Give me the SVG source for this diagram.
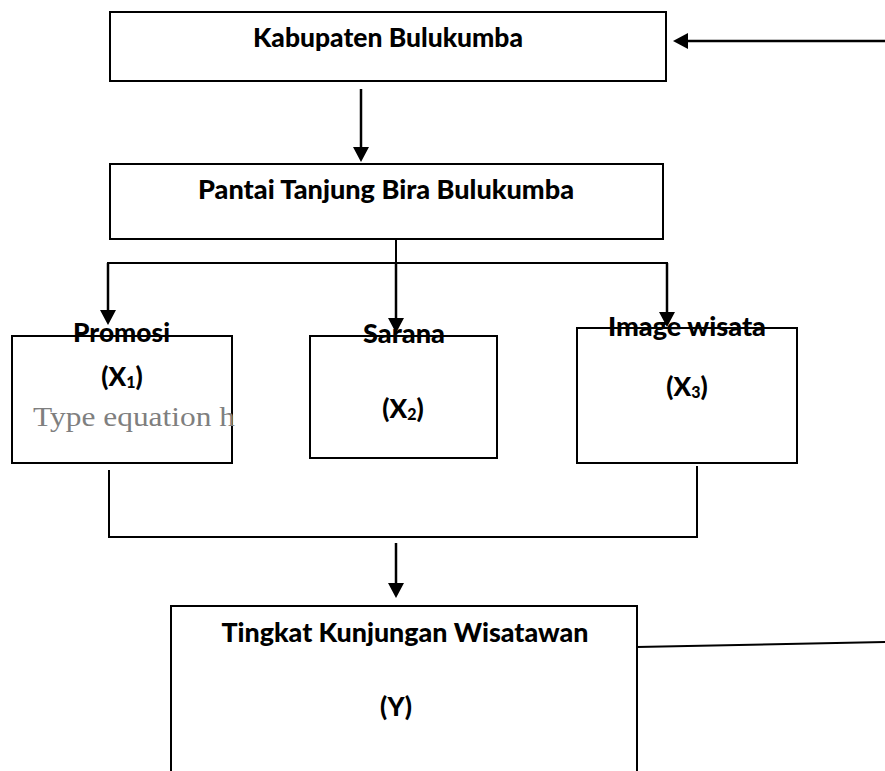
<svg xmlns="http://www.w3.org/2000/svg" width="885" height="771" viewBox="0 0 885 771">
  <style>
    .box { fill: none; stroke: #000; stroke-width: 2; }
    .lbl { font-family: Lato, "Open Sans", "Liberation Sans", sans-serif; font-weight: 900; font-size: 26px; fill: #000; text-anchor: middle; }
    .sub { font-size: 16px; }
    .eq { font-family: "Liberation Serif", "DejaVu Serif", serif; font-size: 28px; fill: #7f7f7f; }
    .con { fill: none; stroke: #000; stroke-width: 2.5; }
    .thin { fill: none; stroke: #000; stroke-width: 2; }
  </style>
  <defs>
    <marker id="ah" markerUnits="userSpaceOnUse" markerWidth="15" markerHeight="16" refX="10" refY="8" orient="auto">
      <path d="M0,0 L15,8 L0,16 z" fill="#000"/>
    </marker>
  </defs>

  <g id="connectors">
    <line class="con" x1="885" y1="41" x2="678" y2="41" marker-end="url(#ah)"/>
    <line class="con" x1="361" y1="89" x2="361" y2="157" marker-end="url(#ah)"/>
    <line class="thin" x1="396" y1="239" x2="396" y2="263"/>
    <line class="thin" x1="107" y1="263" x2="668" y2="263"/>
    <line class="con" x1="108" y1="263" x2="108" y2="320" marker-end="url(#ah)"/>
    <line class="con" x1="396" y1="263" x2="396" y2="328" marker-end="url(#ah)"/>
    <line class="con" x1="667" y1="263" x2="667" y2="322" marker-end="url(#ah)"/>
    <line class="thin" x1="109" y1="470" x2="109" y2="537"/>
    <line class="thin" x1="697" y1="466" x2="697" y2="537"/>
    <line class="thin" x1="108" y1="537" x2="698" y2="537"/>
    <line class="con" x1="396" y1="543" x2="396" y2="593" marker-end="url(#ah)"/>
    <line class="thin" x1="637" y1="647" x2="885" y2="642"/>
  </g>

  <g id="kabupaten">
    <rect class="box" x="110" y="12" width="556" height="69"/>
    <text class="lbl" x="388" y="47" textLength="270" lengthAdjust="spacingAndGlyphs">Kabupaten Bulukumba</text>
  </g>

  <g id="pantai">
    <rect class="box" x="110" y="164" width="553" height="75"/>
    <text class="lbl" x="386" y="199" textLength="376" lengthAdjust="spacingAndGlyphs">Pantai Tanjung Bira Bulukumba</text>
  </g>

  <g id="promosi">
    <rect class="box" x="12" y="336" width="220" height="127"/>
    <text class="lbl" x="121.5" y="342" textLength="97" lengthAdjust="spacingAndGlyphs">Promosi</text>
    <text class="lbl" x="122" y="386">(X<tspan class="sub" dy="2">1</tspan><tspan dy="-2">)</tspan></text>
    <text class="eq" x="33" y="426" textLength="202" lengthAdjust="spacingAndGlyphs">Type equation h</text>
  </g>

  <g id="sarana">
    <rect class="box" x="310" y="336" width="187" height="122"/>
    <text class="lbl" x="404" y="343" textLength="82" lengthAdjust="spacingAndGlyphs">Sarana</text>
    <text class="lbl" x="403" y="418">(X<tspan class="sub" dy="2">2</tspan><tspan dy="-2">)</tspan></text>
  </g>

  <g id="image-wisata">
    <rect class="box" x="577" y="328" width="220" height="135"/>
    <text class="lbl" x="687" y="336" textLength="158" lengthAdjust="spacingAndGlyphs">Image wisata</text>
    <text class="lbl" x="687" y="396">(X<tspan class="sub" dy="2">3</tspan><tspan dy="-2">)</tspan></text>
  </g>

  <g id="tingkat">
    <path class="box" d="M171,775 V606 H637 V775"/>
    <text class="lbl" x="405" y="642" textLength="367" lengthAdjust="spacingAndGlyphs">Tingkat Kunjungan Wisatawan</text>
    <text class="lbl" x="396" y="716">(Y)</text>
  </g>
</svg>
